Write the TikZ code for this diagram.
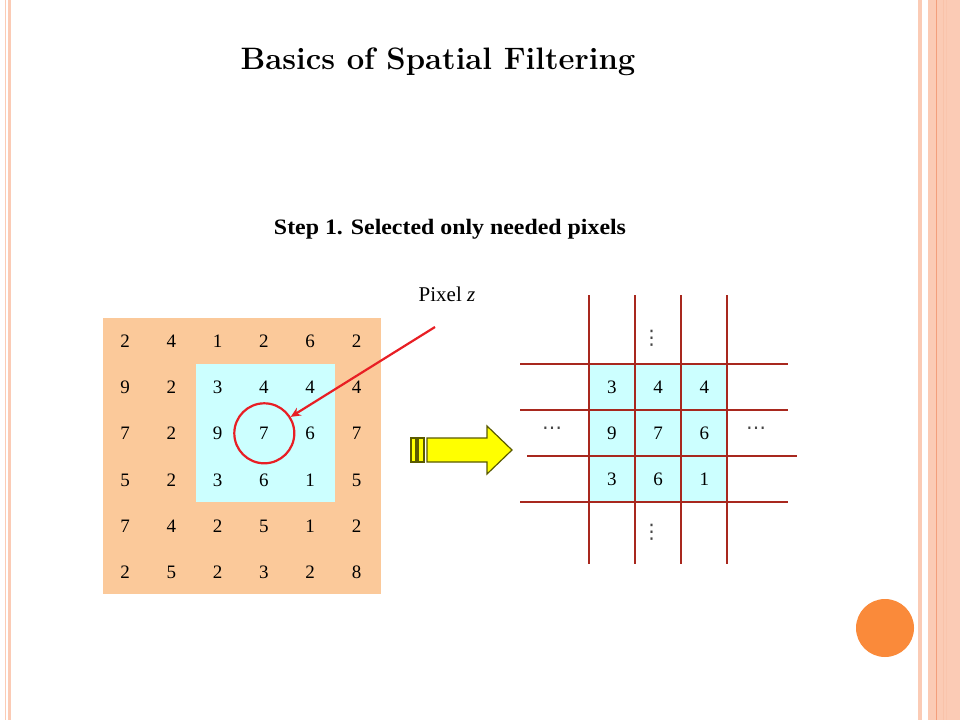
\documentclass[tikz,border=0pt]{standalone}
\usepackage{fontspec}
\usepackage{graphicx}
\usetikzlibrary{arrows.meta}
\newfontfamily\numfont{Liberation Serif}
\newfontfamily\symfont{DejaVu Sans}
\definecolor{stripe}{RGB}{251,203,181}
\definecolor{stripedark}{RGB}{240,140,100}
\definecolor{gridorange}{RGB}{251,201,154}
\definecolor{lightcyan}{RGB}{204,255,255}
\definecolor{gridline}{RGB}{168,40,30}
\definecolor{arrowred}{RGB}{232,30,36}
\definecolor{arrowyellow}{RGB}{255,255,0}
\definecolor{arrowedge}{RGB}{90,90,0}
\definecolor{dotorange}{RGB}{250,138,58}
\definecolor{dotgrey}{RGB}{70,70,70}
\tikzset{
  num/.style={font=\numfont\fontsize{19}{19}\selectfont, inner sep=0pt, anchor=center},
  gline/.style={draw=gridline, line width=2pt},
  ellip/.style={font=\symfont\fontsize{20}{20}\selectfont, text=dotgrey, inner sep=0pt},
}
\begin{document}
\begin{tikzpicture}[x=1pt,y=-1pt]
\useasboundingbox (0,0) rectangle (960,720);
\fill[white] (0,0) rectangle (960,720);
% left border stripes
\fill[stripe] (4.5,0) rectangle (6,720);
\fill[stripe] (8,0) rectangle (11,720);
% right border stripes
\fill[stripe] (918,0) rectangle (922,720);
\fill[stripe] (928,0) rectangle (960,720);
\fill[stripedark!70!stripe] (936,0) rectangle (937.3,720);
\fill[stripe!85!stripedark] (942.5,0) rectangle (944,720);
\fill[stripe!90!stripedark] (946,0) rectangle (947,720);
% title
\node[anchor=base, inner sep=0pt, font=\fontsize{31}{31}\selectfont\bfseries] (title) at (438,69)
  {Basics of Spatial Filtering};
\node[anchor=base, inner sep=0pt] (step) at (450,234)
  {\resizebox{352pt}{\height}{\numfont\fontsize{22}{22}\selectfont\bfseries Step 1. Selected only needed pixels}};
% left grid
\fill[gridorange] (103,318) rectangle (381,594);
\fill[lightcyan] (196,364) rectangle (335,502);
\foreach \r/\y/\vals in {1/341/{2,4,1,2,6,2},2/387/{9,2,3,4,4,4},3/433/{7,2,9,7,6,7},4/480/{5,2,3,6,1,5},5/526/{7,4,2,5,1,2},6/572/{2,5,2,3,2,8}}{
  \foreach \v [count=\c] in \vals {
    \pgfmathsetmacro{\xx}{125+46.3*(\c-1)}
    \node[num] (L-\r-\c) at (\xx,\y) {\v};
  }
}
\node[draw=arrowred, line width=2.2pt, circle, minimum size=60pt, inner sep=0pt] (circ) at (264.3,433.3) {};
\node[font=\numfont\fontsize{21}{21}\selectfont, inner sep=0pt] (pixz) at (447,294) {Pixel \textit{z}};
\coordinate (ps) at (435,327);
\draw[arrowred, line width=2.2pt, -{Stealth[length=10pt,width=9pt]}] (ps) -- (circ);
% yellow arrow
\draw[arrowedge, fill=arrowyellow, line width=1.2pt, line join=miter]
  (427,438) -- (487,438) -- (487,426) -- (512,450) -- (487,474) -- (487,462) -- (427,462) -- cycle;
\draw[arrowedge, fill=arrowyellow, line width=1.2pt] (411,438) rectangle (416,462);
\draw[arrowedge, fill=arrowyellow, line width=1.2pt] (418,438) rectangle (424,462);
% right grid
\fill[lightcyan] (588.7,363.7) rectangle (727.3,502.3);
\foreach \x in {588.7,635,681.3,727.3} \draw[gline] (\x,295) -- (\x,564);
\draw[gline] (520,363.7) -- (788,363.7);
\draw[gline] (520,410) -- (788,410);
\draw[gline] (527,456.3) -- (797,456.3);
\draw[gline] (520,502.3) -- (788,502.3);
\foreach \r/\y/\vals in {1/387/{3,4,4},2/433/{9,7,6},3/479/{3,6,1}}{
  \foreach \v [count=\c] in \vals {
    \pgfmathsetmacro{\xx}{611.9+46.2*(\c-1)}
    \node[num] (R-\r-\c) at (\xx,\y) {\v};
  }
}
\node[ellip] (vt) at (651.7,338) {⋮};
\node[ellip] (vb) at (651.7,532) {⋮};
\node[ellip] (hl) at (552,431) {⋯};
\node[ellip] (hr) at (756,431) {⋯};
% orange dot
\fill[dotorange] (885,628) circle (29);
\end{tikzpicture}
\end{document}
